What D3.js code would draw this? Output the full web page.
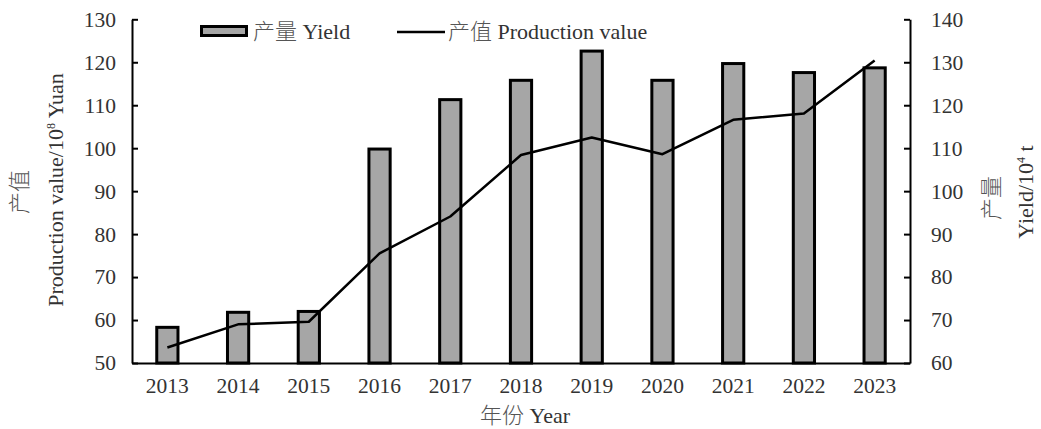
<!DOCTYPE html>
<html>
<head>
<meta charset="utf-8">
<script src="https://cdn.jsdelivr.net/npm/d3@7"></script>
<style>
  body { margin: 0; background: #fff; }
  svg text { font-family: "Liberation Serif", "Noto Sans CJK SC", serif; fill: #333; }
  .cjk { fill: #555; font-weight: 300; }
</style>
</head>
<body>
<svg id="chart" width="1041" height="429"></svg>
<script>
// data
const years = ["2013", "2014", "2015", "2016", "2017", "2018", "2019", "2020", "2021", "2022", "2023"];
const yieldValues = [68.3, 71.8, 72.0, 109.8, 121.3, 125.8, 132.6, 125.8, 129.7, 127.6, 128.7]; // 10^4 t, right axis
const productionValues = [53.6, 59.0, 59.6, 75.5, 84.1, 98.4, 102.5, 98.6, 106.6, 108.1, 120.4]; // 10^8 Yuan, left axis
const leftTicks = [50, 60, 70, 80, 90, 100, 110, 120, 130];
const rightTicks = [60, 70, 80, 90, 100, 110, 120, 130, 140];
const legendItems = [
  { type: "bar", cn: "产量", en: "Yield" },
  { type: "line", cn: "产值", en: "Production value" }
];

const svg = d3.select("#chart");
const width = 1041, height = 429;
const margin = { top: 19.3, right: 131, bottom: 66, left: 132 };
const tickFont = 21.5;
const titleFont = 22;

const x = d3.scaleBand()
  .domain(years)
  .range([margin.left, width - margin.right])
  .paddingInner(0.7)
  .paddingOuter(0.35);

const yLeft = d3.scaleLinear().domain([50, 130]).range([height - margin.bottom, margin.top]);
const yRight = d3.scaleLinear().domain([60, 140]).range([height - margin.bottom, margin.top]);

// bars (yield, right axis)
svg.append("g")
  .selectAll("rect")
  .data(years)
  .join("rect")
  .attr("x", d => x(d))
  .attr("y", (d, i) => yRight(yieldValues[i]))
  .attr("width", x.bandwidth())
  .attr("height", (d, i) => yRight(60) - yRight(yieldValues[i]))
  .attr("fill", "#a6a6a6")
  .attr("stroke", "#000")
  .attr("stroke-width", 3);

// line (production value, left axis)
const line = d3.line()
  .x((d, i) => x(years[i]) + x.bandwidth() / 2)
  .y(d => yLeft(d));

svg.append("path")
  .datum(productionValues)
  .attr("d", line)
  .attr("fill", "none")
  .attr("stroke", "#000")
  .attr("stroke-width", 2.5)
  .attr("stroke-linejoin", "round");

// axes
const leftAxis = svg.append("g")
  .attr("transform", `translate(${margin.left},0)`)
  .call(d3.axisLeft(yLeft).tickValues(leftTicks).tickSize(-6).tickSizeOuter(0).tickPadding(16));

const rightAxis = svg.append("g")
  .attr("transform", `translate(${width - margin.right},0)`)
  .call(d3.axisRight(yRight).tickValues(rightTicks).tickSize(-6).tickSizeOuter(0).tickPadding(21));

const bottomAxis = svg.append("g")
  .attr("transform", `translate(0,${height - margin.bottom})`)
  .call(d3.axisBottom(x).tickSize(0).tickPadding(15));

[leftAxis, rightAxis, bottomAxis].forEach(g => {
  g.select(".domain").attr("stroke", "#000").attr("stroke-width", 2);
  g.selectAll(".tick line").attr("stroke", "#000").attr("stroke-width", 2);
  g.selectAll(".tick text").style("font-size", tickFont + "px").style("font-family", "Liberation Serif").attr("fill", "#333");
});

// axis titles
svg.append("text")
  .attr("class", "cjk")
  .attr("transform", "translate(27,192) rotate(-90)")
  .attr("text-anchor", "middle")
  .style("font-size", titleFont + "px")
  .text("产值");

const leftTitle = svg.append("text")
  .attr("transform", "translate(63,190) rotate(-90)")
  .attr("text-anchor", "middle")
  .style("font-size", titleFont + "px");
leftTitle.append("tspan").text("Production value/10");
leftTitle.append("tspan").attr("dy", -8).style("font-size", "12px").text("8");
leftTitle.append("tspan").attr("dy", 8).text(" Yuan");

svg.append("text")
  .attr("class", "cjk")
  .attr("transform", "translate(999,198) rotate(-90)")
  .attr("text-anchor", "middle")
  .style("font-size", titleFont + "px")
  .text("产量");

const rightTitle = svg.append("text")
  .attr("transform", "translate(1033,192) rotate(-90)")
  .attr("text-anchor", "middle")
  .style("font-size", titleFont + "px");
rightTitle.append("tspan").text("Yield/10");
rightTitle.append("tspan").attr("dy", -8).style("font-size", "12px").text("4");
rightTitle.append("tspan").attr("dy", 8).text(" t");

const xTitle = svg.append("text")
  .attr("x", 480)
  .attr("y", 423)
  .style("font-size", titleFont + "px");
xTitle.append("tspan").attr("class", "cjk").text("年份");
xTitle.append("tspan").text(" Year");

// legend
const legend = svg.append("g");
const legendX = [200, 397];
legendItems.forEach((item, i) => {
  const g = legend.append("g").attr("transform", `translate(${legendX[i]},0)`);
  if (item.type === "bar") {
    g.append("rect")
      .attr("x", 1.5).attr("y", 26.5).attr("width", 45).attr("height", 9)
      .attr("fill", "#a6a6a6").attr("stroke", "#000").attr("stroke-width", 3);
  } else {
    g.append("line")
      .attr("x1", 0).attr("x2", 48).attr("y1", 32).attr("y2", 32)
      .attr("stroke", "#000").attr("stroke-width", 2.5);
  }
  const t = g.append("text")
    .attr("x", i === 0 ? 53 : 51)
    .attr("y", 39)
    .style("font-size", titleFont + "px");
  t.append("tspan").attr("class", "cjk").text(item.cn);
  t.append("tspan").text(" " + item.en);
});
</script>
</body>
</html>
